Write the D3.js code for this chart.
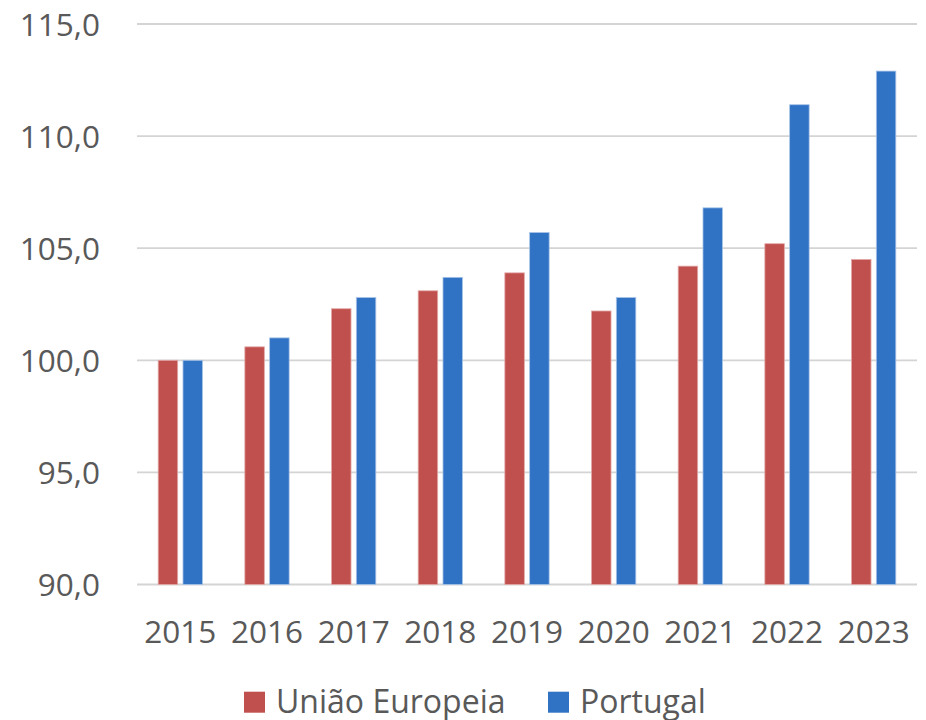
<!DOCTYPE html>
<html><head><meta charset="utf-8">
<script src="https://cdn.jsdelivr.net/npm/d3@7"></script>
<style>body{margin:0;background:#fff}svg{display:block}</style>
</head><body>
<svg id="c" width="926" height="720"></svg>
<script>
const categories = ["2015","2016","2017","2018","2019","2020","2021","2022","2023"];
const seriesNames = ["União Europeia","Portugal"];
const ueValues = [100.0,100.6,102.3,103.1,103.9,102.2,104.2,105.2,104.5];
const ptValues = [100.0,101.0,102.8,103.7,105.7,102.8,106.8,111.4,112.9];
const yTicks = [90,95,100,105,110,115];
const colors = ["#C0504D","#3072C4"];

const svg = d3.select("#c");
const font = "'Open Sans', sans-serif";
const textColor = "#595959";
const plotL = 137, plotR = 917, plotT = 24, plotB = 584.5;

const x = d3.scaleBand().domain(categories).range([plotL,plotR]).paddingInner(0).paddingOuter(0);
const y = d3.scaleLinear().domain([90,115]).range([plotB,plotT]);
const barW = 19.5, gap = 5.3;

// gridlines
svg.append("g").selectAll("line").data(yTicks).join("line")
  .attr("x1",plotL).attr("x2",plotR)
  .attr("y1",d=>y(d)).attr("y2",d=>y(d))
  .attr("stroke","#d4d4d4").attr("stroke-width",1.8);

// y labels
const fmt = d=>d3.format(".1f")(d).replace(".",",");
const yAxis = d3.axisLeft(y).tickValues(yTicks).tickFormat(fmt).tickSize(0).tickPadding(0);
const ya = svg.append("g").attr("transform",`translate(100,0)`).call(yAxis);
ya.select(".domain").remove();
ya.selectAll("text").attr("font-family",font).attr("font-size",31.5).attr("fill",textColor).attr("dy","0.35em");

// bars
const series = [ueValues, ptValues];
series.forEach((vals,si)=>{
  svg.append("g").selectAll("rect").data(vals).join("rect")
    .attr("x",(d,i)=>x(categories[i]) + x.bandwidth()/2 + (si===0 ? -(gap/2+barW) : gap/2))
    .attr("width",barW)
    .attr("y",d=>y(d))
    .attr("height",d=>y(90)-y(d))
    .attr("fill",colors[si])
    .attr("stroke", si===0 ? "#E3A9A7" : "#A9C4E8").attr("stroke-width",0.8);
});

// x labels
const xAxis = d3.axisBottom(x).tickSize(0).tickPadding(0);
const xa = svg.append("g").attr("transform",`translate(0,643)`).call(xAxis);
xa.select(".domain").remove();
xa.selectAll("text").attr("font-family",font).attr("font-size",31.5).attr("fill",textColor).attr("dy",0);

// legend
const legendX = [244, 548];
const lg = svg.append("g");
seriesNames.forEach((n,i)=>{
  lg.append("rect").attr("x",legendX[i]).attr("y",691.7).attr("width",21).attr("height",21).attr("fill",colors[i]);
  lg.append("text").attr("x",legendX[i]+32).attr("y",712.5).text(n)
    .attr("font-family",font).attr("font-size",32).attr("fill",textColor);
});
</script>
</body></html>
